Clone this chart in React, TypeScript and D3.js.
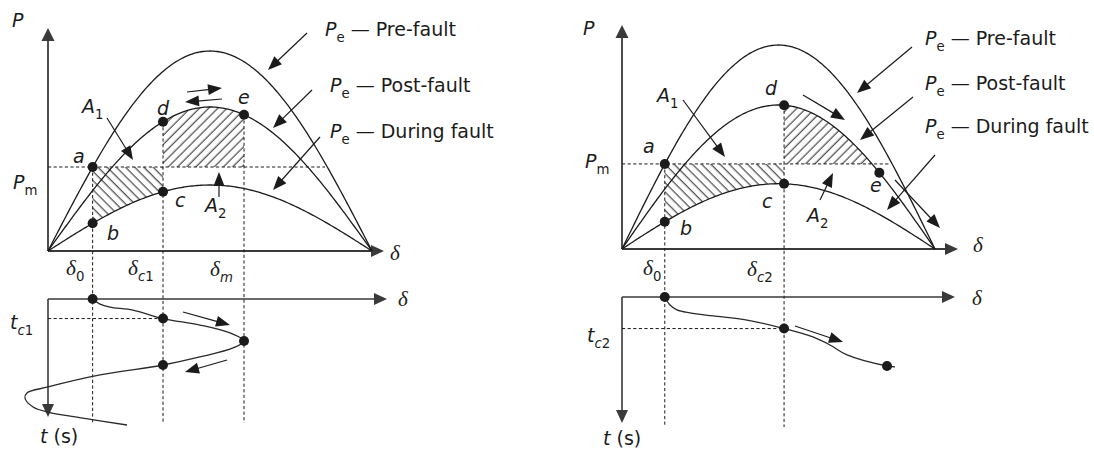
import React from 'react';
import * as d3 from 'd3';

const RAD = Math.PI / 180;
const FONT = "'DejaVu Sans', 'Liberation Sans', sans-serif";
const GREEK = "'Liberation Serif', 'DejaVu Serif', serif";
const INK = '#1b1b1b';
const AXIS = '#3a3a3a';

// Power–angle curves Pe = Pmax·sin δ, in per-unit of the pre-fault peak
const curveLabels = ['Pre-fault', 'Post-fault', 'During fault'];
const leftPmax = [1.0, 0.72, 0.33];
const rightPmax = [1.0, 0.706, 0.32];
const leftPm = 0.42;
const rightPm = 0.417;

// Rotor angles (degrees)
const leftAngles = [24.8, 63.9, 108.9]; // δ0, δc1, δm
const rightAngles = [24.6, 93.2, 148]; // δ0, δc2, point e

// Clearing times (t axis units)
const leftTc = 0.163;
const rightTc = 0.263;

// Swing trajectories δ(t)
const leftSwingDelta = [24.8, 28.9, 34.4, 47.2, 63.9, 84.4, 101.1, 108.9, 102.8, 84.4, 63.9, 28.9, 0, -11.7, -12.8, -8.3, 0, 19.4, 43.9];
const leftSwingTime = [0, 0.042, 0.067, 0.092, 0.163, 0.217, 0.283, 0.35, 0.408, 0.483, 0.55, 0.633, 0.733, 0.783, 0.825, 0.9, 0.942, 0.992, 1.05];
const leftSwingDots = [0, 4, 7, 10];

const rightSwingDelta = [24.6, 27.6, 31.6, 39.1, 52.3, 71.9, 93.2, 109.8, 119.6, 129.4, 152.4, 157];
const rightSwingTime = [0, 0.067, 0.108, 0.133, 0.158, 0.192, 0.263, 0.333, 0.4, 0.483, 0.575, 0.583];
const rightSwingDots = [0, 6, 10];

type Geo = {
  ox: number; oy: number; xEnd: number; yTop: number;
  xTip: number; yTip: number; pmEnd: number;
  lowY: number; lowXTip: number; lowYTip: number; tUnit: number; dashBottom: number;
};

const leftGeo: Geo = { ox: 48, oy: 251, xEnd: 372, yTop: 51, xTip: 384, yTip: 28, pmEnd: 325, lowY: 299, lowXTip: 387, lowYTip: 417, tUnit: 120, dashBottom: 423 };
const rightGeo: Geo = { ox: 622, oy: 249, xEnd: 935, yTop: 45, xTip: 958, yTip: 25, pmEnd: 890, lowY: 297, lowXTip: 955, lowYTip: 423, tUnit: 120, dashBottom: 427 };

function Arrow({ x1, y1, x2, y2, len = 14, w = 5.5, sw = 1.2, color = INK }: any) {
  const dx = x2 - x1, dy = y2 - y1;
  const L = Math.hypot(dx, dy);
  const ux = dx / L, uy = dy / L;
  const bx = x2 - ux * len, by = y2 - uy * len;
  const pts = [[x2, y2], [bx - uy * w, by + ux * w], [bx + uy * w, by - ux * w]];
  return (
    <g>
      <line x1={x1} y1={y1} x2={bx + ux * 2} y2={by + uy * 2} stroke={color} strokeWidth={sw} />
      <polygon points={pts.map((p) => p.join(',')).join(' ')} fill={color} />
    </g>
  );
}

// Symbol with a subscript; parts are [text, italic]
function Sym({ x, y, main, sub, size = 19, greek = false, anchor = 'start', rest }: any) {
  const off = size * 0.32;
  return (
    <text x={x} y={y} fontSize={size} fill={INK} textAnchor={anchor} fontFamily={FONT}>
      <tspan fontStyle="italic" fontFamily={greek ? GREEK : FONT} fontSize={greek ? size * 1.12 : size}>{main}</tspan>
      {(sub as [string, boolean][]).map(([s, it], i) => (
        <tspan key={i} fontSize={size * 0.7} dy={i === 0 ? off : 0} fontStyle={it ? 'italic' : 'normal'}>{s}</tspan>
      ))}
      {rest ? <tspan dy={-off}>{rest}</tspan> : null}
    </text>
  );
}

function Label({ x, y, children, size = 19 }: any) {
  return <text x={x} y={y} fontSize={size} fontStyle="italic" fill={INK} fontFamily={FONT}>{children}</text>;
}

function Panel({ geo, pmax, pm, angles, hasDm, swingD, swingT, swingDots, tc }: any) {
  const g: Geo = geo;
  const x = d3.scaleLinear().domain([0, 180]).range([g.ox, g.xEnd]);
  const y = d3.scaleLinear().domain([0, 1]).range([g.oy, g.yTop]);
  const t = d3.scaleLinear().domain([0, 1]).range([g.lowY, g.lowY + g.tUnit]);
  const pe = (k: number) => (d: number) => pmax[k] * Math.sin(d * RAD);
  const post = pe(1), during = pe(2);
  const span = (a: number, b: number) => d3.range(a, b, 0.5).concat([b]);

  const [d0, dc, d3rd] = angles;
  // A2 ends at δm (stable case) or where post-fault curve falls back to Pm
  const a2End = hasDm ? d3rd : 180 - Math.asin(pm / pmax[1]) / RAD;

  const curves = pmax.map((_: number, k: number) =>
    d3.line<number>().x((d) => x(d)).y((d) => y(pe(k)(d)))(d3.range(0, 180.01, 1))
  );
  const areaA1 = d3.area<number>().x((d) => x(d)).y0((d) => y(during(d))).y1(() => y(pm))(span(d0, dc));
  const areaA2 = d3.area<number>().x((d) => x(d)).y0(() => y(pm)).y1((d) => y(Math.max(pm, post(d))))(span(dc, a2End));

  const swingPts: [number, number][] = swingD.map((d: number, i: number) => [x(d), t(swingT[i])]);
  const swing = d3.line().curve(d3.curveCatmullRom.alpha(0.5))(swingPts);

  const dots: [number, number][] = [
    [x(d0), y(pm)],
    [x(d0), y(during(d0))],
    [x(dc), y(during(dc))],
    [x(dc), y(post(dc))],
    [x(d3rd), y(post(d3rd))],
  ];
  const dash = '3.2,2.4';
  const verticals: [number, number][] = [[d0, pm], [dc, post(dc)]];
  if (hasDm) verticals.push([d3rd, post(d3rd)]);

  return (
    <g>
      <path d={areaA1 || ''} fill="url(#hatchBack)" />
      <path d={areaA2 || ''} fill="url(#hatchFwd)" />
      {/* axes */}
      <Arrow x1={g.ox} y1={g.oy} x2={g.ox} y2={g.yTip} len={13} w={6.5} sw={1.8} color={AXIS} />
      <Arrow x1={g.ox} y1={g.oy} x2={g.xTip} y2={g.oy} len={13} w={6} sw={1.8} color={AXIS} />
      <Arrow x1={g.ox} y1={g.lowY} x2={g.lowXTip} y2={g.lowY} len={13} w={6} sw={1.6} color={AXIS} />
      <Arrow x1={g.ox} y1={g.lowY} x2={g.ox} y2={g.lowYTip} len={13} w={6} sw={1.6} color={AXIS} />
      {/* dashed guides */}
      <line x1={g.ox} x2={g.pmEnd} y1={y(pm)} y2={y(pm)} stroke={INK} strokeWidth={1} strokeDasharray={dash} />
      {verticals.map(([d, p], i) => (
        <line key={i} x1={x(d)} x2={x(d)} y1={y(p)} y2={g.dashBottom} stroke={INK} strokeWidth={1} strokeDasharray={dash} />
      ))}
      <line x1={g.ox} x2={x(dc)} y1={t(tc)} y2={t(tc)} stroke={INK} strokeWidth={1} strokeDasharray={dash} />
      {/* power–angle curves */}
      {curves.map((c: string | null, k: number) => (
        <path key={curveLabels[k]} d={c || ''} fill="none" stroke={INK} strokeWidth={1.3} />
      ))}
      {/* swing curve */}
      <path d={swing || ''} fill="none" stroke="#2a2a2a" strokeWidth={1.3} />
      {swingDots.map((i: number) => (
        <circle key={'s' + i} cx={swingPts[i][0]} cy={swingPts[i][1]} r={5} fill={INK} />
      ))}
      {dots.map(([cx, cy], i) => (
        <circle key={'p' + i} cx={cx} cy={cy} r={5} fill={INK} />
      ))}
    </g>
  );
}

function Legend({ x, y, text }: any) {
  return <Sym x={x} y={y} main="P" sub={[['e', false]]} size={19} rest={'\u00a0— ' + text} />;
}

export default function App() {
  return (
    <svg
      width={1094}
      height={451}
      viewBox="0 0 1094 451"
      style={{ position: 'absolute', left: 0, top: 0, background: '#fff' }}
      fontFamily={FONT}
    >
      <defs>
        <pattern id="hatchFwd" patternUnits="userSpaceOnUse" width={6.5} height={6.5} patternTransform="rotate(45)">
          <line x1={3} y1={-1} x2={3} y2={7.5} stroke="#222" strokeWidth={1} />
        </pattern>
        <pattern id="hatchBack" patternUnits="userSpaceOnUse" width={6.5} height={6.5} patternTransform="rotate(-45)">
          <line x1={3} y1={-1} x2={3} y2={7.5} stroke="#222" strokeWidth={1} />
        </pattern>
      </defs>

      {/* ---------- Stable case ---------- */}
      <Panel
        geo={leftGeo}
        pmax={leftPmax}
        pm={leftPm}
        angles={leftAngles}
        hasDm
        swingD={leftSwingDelta}
        swingT={leftSwingTime}
        swingDots={leftSwingDots}
        tc={leftTc}
      />
      <Label x={12} y={27}>P</Label>
      <Sym x={13} y={189} main="P" sub={[['m', false]]} />
      <text x={390} y={260} fontFamily={GREEK} fontStyle="italic" fontSize={21} fill={INK}>δ</text>
      <text x={398} y={306} fontFamily={GREEK} fontStyle="italic" fontSize={21} fill={INK}>δ</text>
      <Label x={73} y={163}>a</Label>
      <Label x={107} y={240}>b</Label>
      <Label x={175} y={207}>c</Label>
      <Label x={157} y={115}>d</Label>
      <Label x={238} y={104}>e</Label>
      <Sym x={82} y={113} main="A" sub={[['1', false]]} />
      <Sym x={205} y={212} main="A" sub={[['2', false]]} />
      <Sym x={66} y={275} main="δ" greek sub={[['0', false]]} />
      <Sym x={128} y={275} main="δ" greek sub={[['c', true], ['1', false]]} />
      <Sym x={210} y={276} main="δ" greek sub={[['m', true]]} />
      <Sym x={10} y={329} main="t" sub={[['c', true], ['1', false]]} />
      <text x={40} y={443} fontSize={19} fill={INK}>
        <tspan fontStyle="italic">t</tspan> (s)
      </text>
      <Legend x={325} y={36} text={curveLabels[0]} />
      <Legend x={330} y={92} text={curveLabels[1]} />
      <Legend x={330} y={138} text={curveLabels[2]} />
      <Arrow x1={107} y1={118} x2={133} y2={160} />
      <Arrow x1={219} y1={197} x2={219} y2={172} />
      <Arrow x1={307} y1={33} x2={268} y2={70} />
      <Arrow x1={312} y1={90} x2={273} y2={128} />
      <Arrow x1={320} y1={137} x2={273} y2={190} />
      <Arrow x1={187} y1={92} x2={222} y2={88} />
      <Arrow x1={222} y1={99} x2={185} y2={102} />
      <Arrow x1={183} y1={312} x2={230} y2={325} />
      <Arrow x1={227} y1={360} x2={185} y2={372} />

      {/* ---------- Unstable case ---------- */}
      <Panel
        geo={rightGeo}
        pmax={rightPmax}
        pm={rightPm}
        angles={rightAngles}
        hasDm={false}
        swingD={rightSwingDelta}
        swingT={rightSwingTime}
        swingDots={rightSwingDots}
        tc={rightTc}
      />
      <Label x={583} y={35}>P</Label>
      <Sym x={585} y={168} main="P" sub={[['m', false]]} />
      <text x={973} y={252} fontFamily={GREEK} fontStyle="italic" fontSize={21} fill={INK}>δ</text>
      <text x={972} y={305} fontFamily={GREEK} fontStyle="italic" fontSize={21} fill={INK}>δ</text>
      <Label x={643} y={153}>a</Label>
      <Label x={680} y={235}>b</Label>
      <Label x={762} y={208}>c</Label>
      <Label x={765} y={95}>d</Label>
      <Label x={870} y={192}>e</Label>
      <Sym x={657} y={102} main="A" sub={[['1', false]]} />
      <Sym x={807} y={222} main="A" sub={[['2', false]]} />
      <Sym x={643} y={275} main="δ" greek sub={[['0', false]]} />
      <Sym x={747} y={276} main="δ" greek sub={[['c', true], ['2', false]]} />
      <Sym x={587} y={342} main="t" sub={[['c', true], ['2', false]]} />
      <text x={603} y={445} fontSize={19} fill={INK}>
        <tspan fontStyle="italic">t</tspan> (s)
      </text>
      <Legend x={925} y={45} text={curveLabels[0]} />
      <Legend x={925} y={90} text={curveLabels[1]} />
      <Legend x={925} y={133} text={curveLabels[2]} />
      <Arrow x1={683} y1={100} x2={725} y2={157} />
      <Arrow x1={820} y1={200} x2={833} y2={173} />
      <Arrow x1={803} y1={95} x2={845} y2={120} />
      <Arrow x1={895} y1={180} x2={940} y2={228} />
      <Arrow x1={912} y1={47} x2={857} y2={93} />
      <Arrow x1={913} y1={97} x2={860} y2={140} />
      <Arrow x1={935} y1={155} x2={887} y2={210} />
      <Arrow x1={795} y1={326} x2={843} y2={342} />
    </svg>
  );
}
